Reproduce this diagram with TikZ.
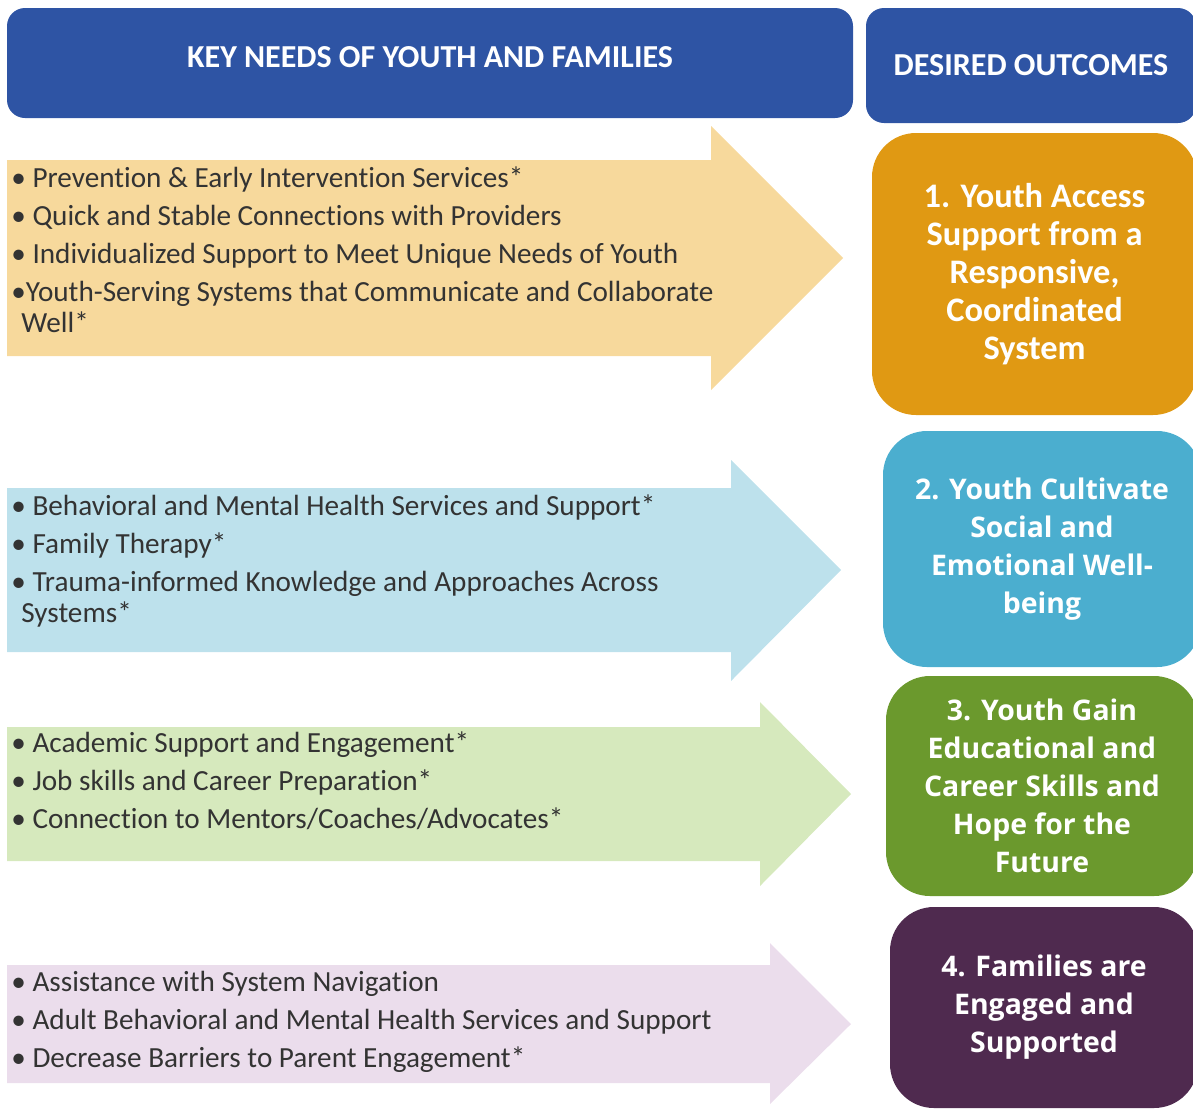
\documentclass[tikz,border=0pt]{standalone}
\usepackage{fontspec}
\setmainfont{Carlito}[Ligatures=NoCommon]
\newfontfamily\opensans{Open Sans}
\usepackage{tikz}

\definecolor{hdrblue}{HTML}{2E54A4}
\definecolor{needsA}{HTML}{F7D99C}
\definecolor{needsB}{HTML}{BDE1EC}
\definecolor{needsC}{HTML}{D6E9BD}
\definecolor{needsD}{HTML}{EBDDEC}
\definecolor{goalA}{HTML}{E09913}
\definecolor{goalB}{HTML}{4BAECF}
\definecolor{goalC}{HTML}{6B992D}
\definecolor{goalD}{HTML}{4F2A4F}
\definecolor{bodytext}{HTML}{333333}

\begin{document}
\begin{tikzpicture}[
    x=0.5pt, y=-0.5pt,
    hdr/.style={fill=hdrblue, text=white, rounded corners=9pt, inner sep=0pt,
      font=\bfseries\fontsize{16}{19}\selectfont},
    needs/.style={anchor=north west, inner sep=0pt, align=left, text=bodytext,
      font=\fontsize{14.6}{15.5}\selectfont},
    goal/.style={rounded corners=22pt, text=white, align=center, inner sep=0pt,
      font=\bfseries\fontsize{17.2}{19}\selectfont}
  ]
    \useasboundingbox (0,0) rectangle (1193,1109);

    % headers
    \node[hdr, minimum width=423pt, minimum height=55pt, text depth=6pt] (keyhdr) at (430,63) {KEY NEEDS OF YOUTH AND FAMILIES};
    \node[hdr, minimum width=165pt, minimum height=57.5pt] (outhdr) at (1031,65.5) {DESIRED OUTCOMES};

    % arrows
    \fill[needsA] (7,160) -- (711,160) -- (711,126) -- (843,258) -- (711,390) -- (711,356) -- (7,356) -- cycle;
    \fill[needsB] (7,488) -- (731,488) -- (731,460) -- (841,570) -- (731,681) -- (731,652) -- (7,652) -- cycle;
    \fill[needsC] (7,727) -- (760,727) -- (760,702) -- (851,794) -- (760,886) -- (760,861) -- (7,861) -- cycle;
    \fill[needsD] (7,965) -- (770,965) -- (770,943) -- (851,1024) -- (770,1104) -- (770,1083) -- (7,1083) -- cycle;

    \node[needs] (needsA) at (11,166) {%
      • Prevention \& Early Intervention Services*\\[3.5pt]
      • Quick and Stable Connections with Providers\\[3.5pt]
      • Individualized Support to Meet Unique Needs of Youth\\[3.5pt]
      •Youth-Serving Systems that Communicate and Collaborate\\
      \hspace*{5pt}Well*};
    \node[needs] (needsB) at (11,494) {%
      • Behavioral and Mental Health Services and Support*\\[3.5pt]
      • Family Therapy*\\[3.5pt]
      • Trauma-informed Knowledge and Approaches Across\\
      \hspace*{5pt}Systems*};
    \node[needs] (needsC) at (11,731) {%
      • Academic Support and Engagement*\\[3.5pt]
      • Job skills and Career Preparation*\\[3.5pt]
      • Connection to Mentors/Coaches/Advocates*};
    \node[needs] (needsD) at (11,971) {%
      • Assistance with System Navigation\\[3.5pt]
      • Adult Behavioral and Mental Health Services and Support\\[3.5pt]
      • Decrease Barriers to Parent Engagement*};

    % outcomes
    \node[goal, fill=goalA, minimum width=162.5pt, minimum height=141pt] (goalA) at (1034.5,274)
      {1. Youth Access\\Support from a\\Responsive,\\Coordinated\\System};
    \node[goal, fill=goalB, minimum width=159pt, minimum height=118pt, font=\opensans\bfseries\fontsize{14.2}{19}\selectfont] (goalB) at (1042,549)
      {2. Youth Cultivate\\Social and\\Emotional Well-\\being};
    \node[goal, fill=goalC, minimum width=156pt, minimum height=110pt, font=\opensans\bfseries\fontsize{14.2}{19}\selectfont] (goalC) at (1042,786)
      {3. Youth Gain\\Educational and\\Career Skills and\\Hope for the\\Future};
    \node[goal, fill=goalD, minimum width=154pt, minimum height=100.5pt, font=\opensans\bfseries\fontsize{14.2}{19}\selectfont] (goalD) at (1044,1007.5)
      {4. Families are\\Engaged and\\Supported};
  \end{tikzpicture}
\end{document}
